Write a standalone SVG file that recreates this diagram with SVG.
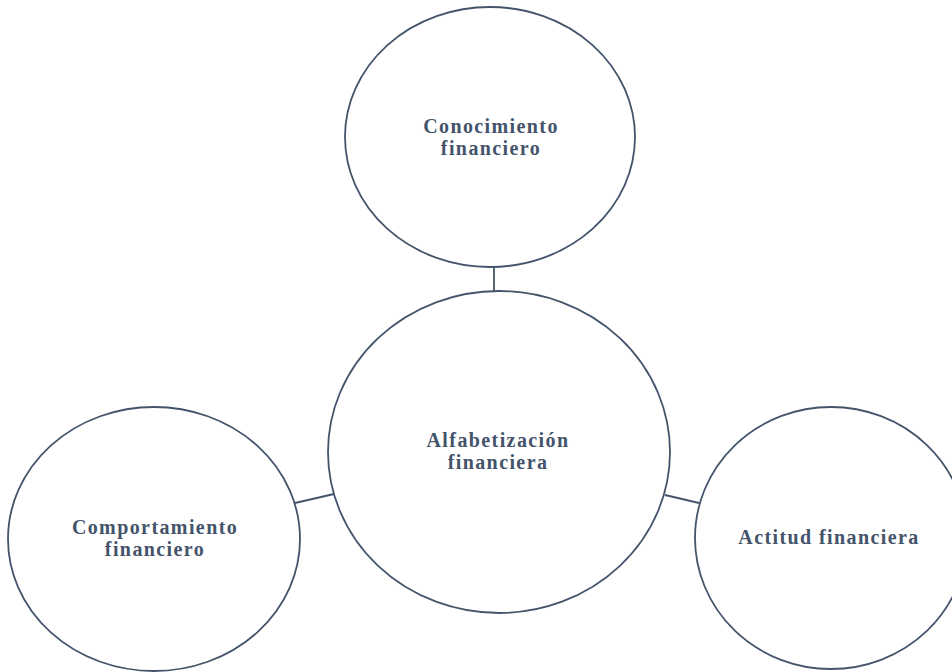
<svg xmlns="http://www.w3.org/2000/svg" width="952" height="672" viewBox="0 0 952 672">
<style>
.node{fill:#ffffff;stroke:#44546a;stroke-width:1.8}
.conn{stroke:#44546a;stroke-width:1.8;fill:none}
.lbl{font-family:"Liberation Serif","Times New Roman",serif;font-weight:bold;font-size:20px;fill:#44546a;text-anchor:middle;letter-spacing:1.4px}
</style>
<rect width="952" height="672" fill="#ffffff"/>
<g id="connectors">
<line class="conn" x1="494" y1="266" x2="494" y2="291"/>
<line class="conn" x1="295" y1="503" x2="334" y2="494"/>
<line class="conn" x1="665" y1="495" x2="699" y2="503"/>
</g>
<g id="node-conocimiento">
<ellipse class="node" cx="490" cy="137" rx="145" ry="130"/>
<text class="lbl" x="491" y="133">Conocimiento</text>
<text class="lbl" x="491" y="155">financiero</text>
</g>
<g id="node-alfabetizacion">
<ellipse class="node" cx="499" cy="452" rx="171" ry="161"/>
<text class="lbl" x="498" y="447">Alfabetización</text>
<text class="lbl" x="498" y="469">financiera</text>
</g>
<g id="node-comportamiento">
<ellipse class="node" cx="154" cy="539" rx="146" ry="132"/>
<text class="lbl" x="155" y="534">Comportamiento</text>
<text class="lbl" x="155" y="556">financiero</text>
</g>
<g id="node-actitud">
<ellipse class="node" cx="831" cy="538" rx="136" ry="131"/>
<text class="lbl" x="829" y="544">Actitud financiera</text>
</g>
</svg>
